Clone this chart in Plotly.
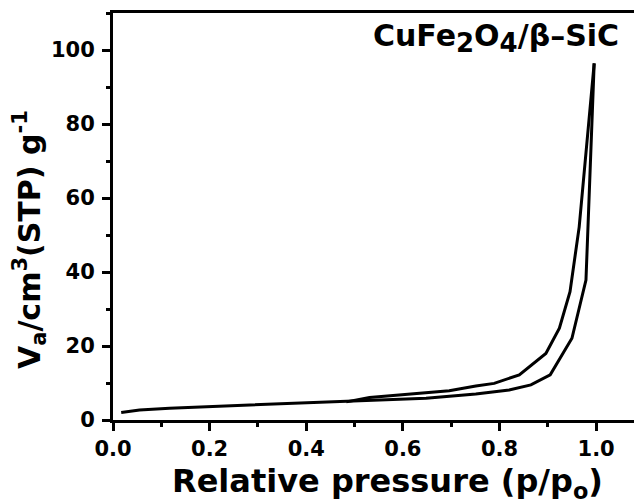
import plotly.graph_objects as go

# adsorption branch (lower)
ads_p = [0.017, 0.055, 0.117, 0.235, 0.40, 0.483, 0.538, 0.648, 0.751, 0.82, 0.865, 0.905, 0.95, 0.979, 0.996]
ads_v = [2.0, 2.7, 3.2, 3.8, 4.5, 4.9, 5.2, 5.9, 7.0, 8.1, 9.5, 12.2, 22.1, 37.8, 96.4]

# desorption branch (upper)
des_p = [0.996, 0.982, 0.965, 0.946, 0.924, 0.896, 0.841, 0.789, 0.751, 0.696, 0.62, 0.531, 0.483]
des_v = [96.4, 75.7, 52.2, 34.7, 24.8, 18.0, 12.2, 9.9, 9.2, 7.9, 7.0, 6.1, 4.9]

FONT = "DejaVu Sans, sans-serif"

# page body has an 8px margin, so the figure is drawn 8px smaller and offset
fig = go.Figure()
fig.add_trace(go.Scatter(x=ads_p, y=ads_v, mode="lines",
                         line=dict(color="black", width=3), showlegend=False))
fig.add_trace(go.Scatter(x=des_p, y=des_v, mode="lines",
                         line=dict(color="black", width=3), showlegend=False))

def px_x(x):  # screen px -> paper x
    return (x - 113) / 529

def px_y(y):  # screen px -> paper y
    return (420 - y) / 407

# sample label
fig.add_annotation(text="CuFe<sub><span style='font-size:26px'>2</span></sub>O<sub><span style='font-size:26px'>4</span></sub>/β–SiC",
                   xref="paper", yref="paper", x=px_x(621), y=px_y(38),
                   xanchor="right", yanchor="middle", showarrow=False,
                   font=dict(family=FONT, size=30, color="black", weight="bold"))

# axis titles as annotations so they can sit where the reference puts them
fig.add_annotation(text="Relative pressure (p/p<sub>o</sub>)", xref="paper", yref="paper",
                   x=px_x(387), y=px_y(483), xanchor="center", yanchor="middle",
                   showarrow=False, font=dict(family=FONT, size=32, color="black", weight="bold"))
fig.add_annotation(text="V<sub>a</sub>/cm<sup>3</sup>(STP) g<sup>-1</sup>", xref="paper", yref="paper",
                   x=px_x(29), y=px_y(240), xanchor="center", yanchor="middle",
                   textangle=-90, showarrow=False,
                   font=dict(family=FONT, size=30, color="black", weight="bold"))

axis_common = dict(showline=True, linecolor="black", linewidth=3, ticks="outside",
                   tickwidth=3, ticklen=8, tickcolor="black", showgrid=False, zeroline=False,
                   automargin=False,
                   tickfont=dict(family=FONT, size=21, color="black", weight="bold"))

fig.update_xaxes(range=[0, 1.095], dtick=0.2, tickformat=".1f", mirror=True,
                 ticklabelstandoff=0,
                 minor=dict(dtick=0.1, ticks="outside", ticklen=4, tickwidth=3, tickcolor="black"),
                 **axis_common)
fig.update_yaxes(range=[0, 110], dtick=20, ticklabelstandoff=3,
                 minor=dict(dtick=10, ticks="outside", ticklen=4, tickwidth=3, tickcolor="black"),
                 **axis_common)

fig.update_layout(width=634, height=496, plot_bgcolor="white", paper_bgcolor="white",
                  margin=dict(l=105, r=0, t=5, b=84))

fig.write_html("out.html")
